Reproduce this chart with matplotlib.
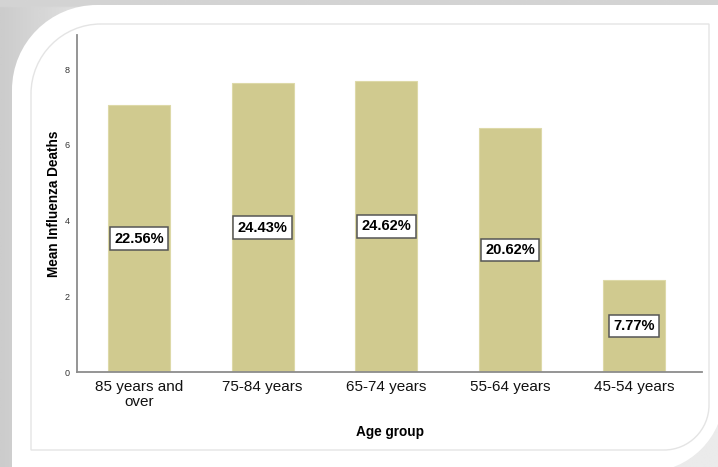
import matplotlib
matplotlib.use("Agg")
import matplotlib.pyplot as plt
from matplotlib.path import Path
from matplotlib.patches import PathPatch
import numpy as np

plt.rcParams['font.family'] = ['Liberation Sans', 'DejaVu Sans']

age_groups = ["85 years and\nover", "75-84 years", "65-74 years", "55-64 years", "45-54 years"]
mean_deaths = [7.05, 7.63, 7.69, 6.44, 2.43]
share_labels = ["22.56%", "24.43%", "24.62%", "20.62%", "7.77%"]
y_ticks = [0, 2, 4, 6, 8]

W, H = 718, 467
BAR_COLOR = "#d0ca8f"


def rounded_path(x0, y0, x1, y1, r_tl, r_br):
    # rectangle in pixel coords (y down) with top-left and bottom-right corners rounded
    k = 0.5523
    verts = [
        (x0 + r_tl, y0),
        (x1, y0),
        (x1, y1 - r_br),
        (x1, y1 - r_br + k * r_br), (x1 - r_br + k * r_br, y1), (x1 - r_br, y1),
        (x0, y1),
        (x0, y0 + r_tl),
        (x0, y0 + r_tl - k * r_tl), (x0 + r_tl - k * r_tl, y0), (x0 + r_tl, y0),
        (x0 + r_tl, y0),
    ]
    codes = [Path.MOVETO, Path.LINETO, Path.LINETO,
             Path.CURVE4, Path.CURVE4, Path.CURVE4,
             Path.LINETO, Path.LINETO,
             Path.CURVE4, Path.CURVE4, Path.CURVE4,
             Path.CLOSEPOLY]
    verts = [(x / W, 1 - y / H) for x, y in verts]
    return Path(verts, codes)


def main():
    fig = plt.figure(figsize=(W / 100, H / 100), dpi=100)
    fig.patch.set_facecolor("#dedede")

    # soft gray backdrop
    bg = fig.add_axes([0, 0, 1, 1], zorder=-10)
    gx = np.linspace(0, 1, 200)
    gy = np.linspace(0, 1, 200)
    X, Y = np.meshgrid(gx, gy)
    shade = 0.80 + 0.12 * np.clip(X * 6, 0, 1)
    shade[:3, :] = 0.83
    bg.imshow(shade, cmap="gray", vmin=0, vmax=1, extent=[0, 1, 0, 1],
              aspect="auto", origin="upper")
    bg.set_xlim(0, 1)
    bg.set_ylim(0, 1)
    bg.axis("off")

    panel = PathPatch(rounded_path(12, 5, 724, 472, 85, 78),
                      facecolor="white", edgecolor="none",
                      transform=fig.transFigure)
    bg.add_patch(panel)
    frame = PathPatch(rounded_path(31, 24, 709, 450, 70, 45),
                      facecolor="none", edgecolor="#e4e4e4", linewidth=1.0,
                      transform=fig.transFigure)
    bg.add_patch(frame)

    ax = fig.add_axes([77 / W, 1 - 372 / H, (702 - 77) / W, (372 - 34.7) / H])
    ax.set_facecolor("none")

    x = np.arange(len(age_groups))
    bars = ax.bar(x, mean_deaths, 0.5, color=BAR_COLOR, edgecolor="#ddd9a8",
                  linewidth=0.8)

    for rect, lab in zip(bars, share_labels):
        ax.text(rect.get_x() + rect.get_width() / 2, rect.get_height() / 2, lab,
                ha="center", va="center", fontsize=10.5, fontweight="bold",
                bbox=dict(boxstyle="square,pad=0.3", facecolor="white",
                          edgecolor="#555555", linewidth=1.1))

    ax.set_xlim(-0.5, 4.55)
    ax.set_ylim(0, 8.91)
    ax.set_yticks(y_ticks)
    ax.set_yticklabels([str(t) for t in y_ticks], fontsize=6.5, color="#333333")
    ax.set_xticks(x)
    ax.set_xticklabels(age_groups, fontsize=11, linespacing=1.1, color="#111111")
    ax.tick_params(axis="both", length=0)
    ax.tick_params(axis="y", pad=5)
    ax.tick_params(axis="x", pad=6)

    for side in ["top", "right"]:
        ax.spines[side].set_visible(False)
    for side in ["left", "bottom"]:
        ax.spines[side].set_color("#8c8c8c")
        ax.spines[side].set_linewidth(1.3)

    ax.set_ylabel("Mean Influenza Deaths", fontsize=9.8, fontweight="bold", labelpad=3)
    fig.text(390 / W, 1 - 432 / H, "Age group", ha="center", va="center",
             fontsize=9.8, fontweight="bold")

    fig.savefig("out.png", dpi=100)


if __name__ == "__main__":
    main()
